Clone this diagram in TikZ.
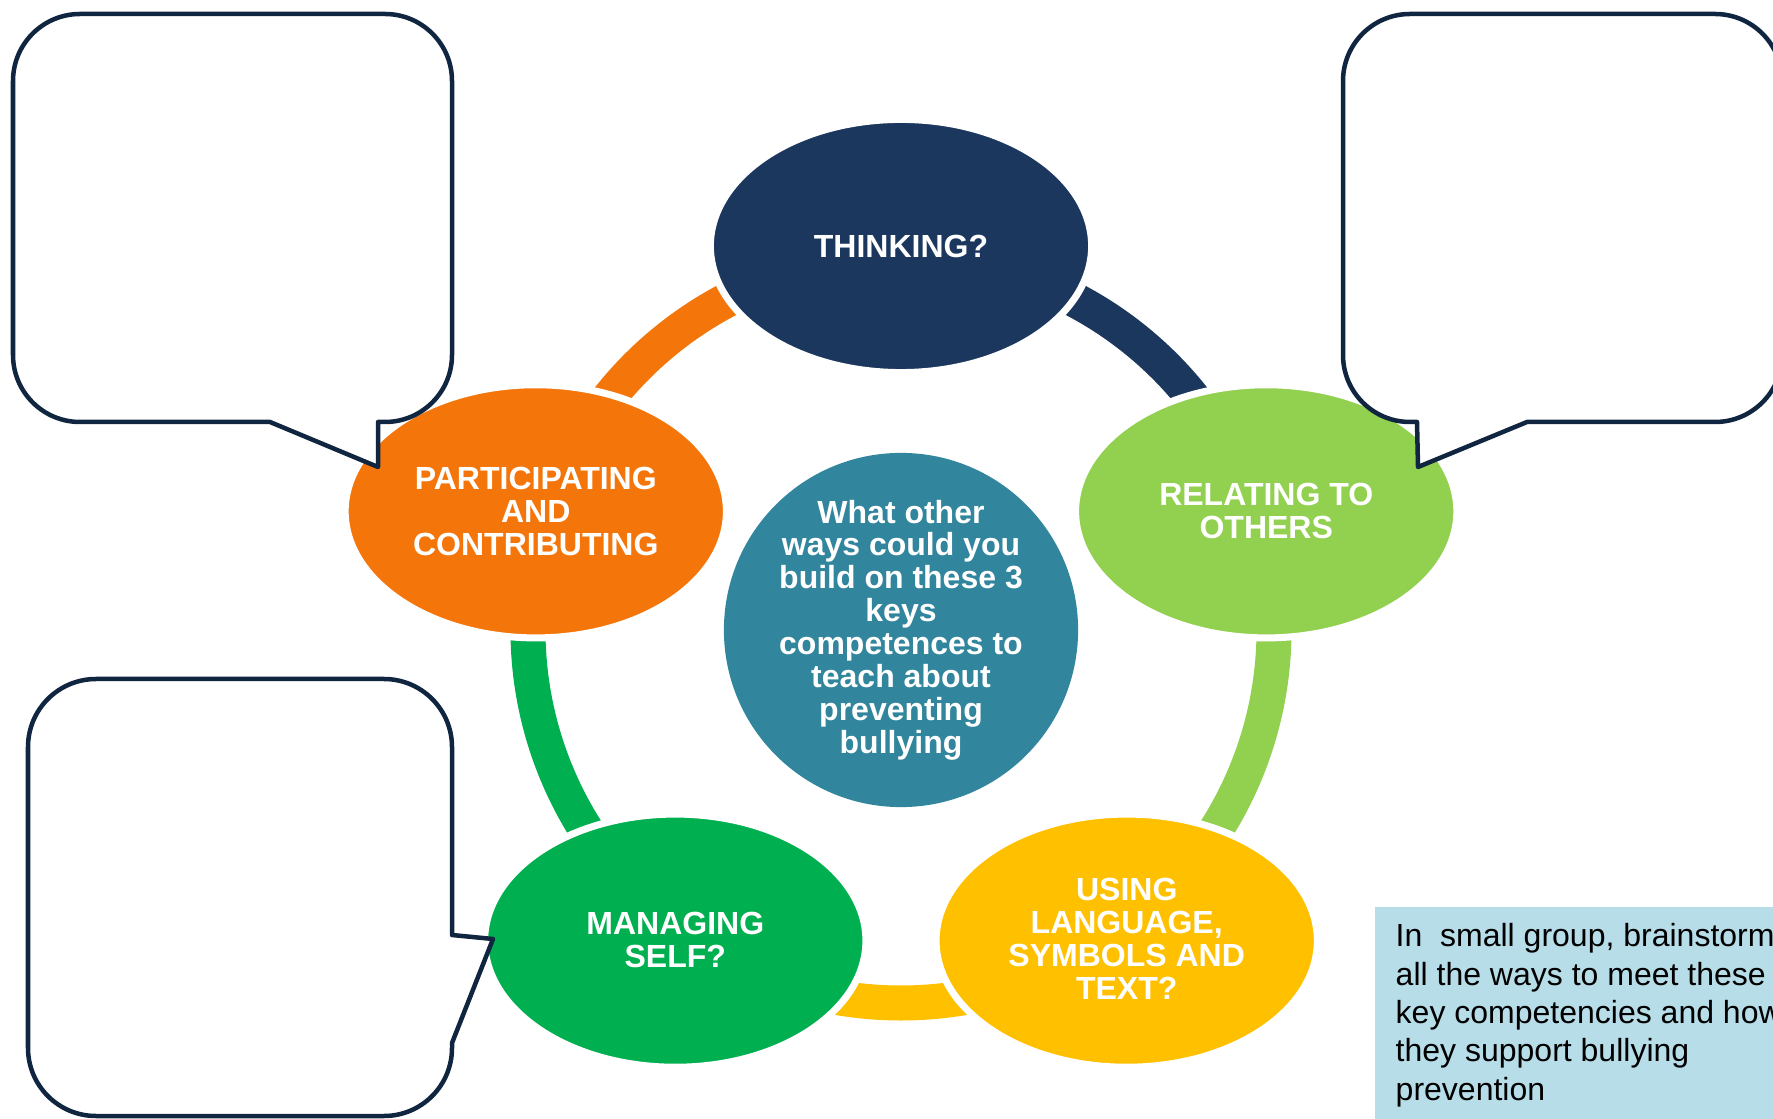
\documentclass[tikz,border=0pt]{standalone}
\usepackage{fontspec}
\setmainfont{Liberation Sans}
\usetikzlibrary{shapes.geometric,calc}

\definecolor{thinkblue}{HTML}{1B375E}
\definecolor{relgreen}{HTML}{92D050}
\definecolor{usegold}{HTML}{FFC000}
\definecolor{mangreen}{HTML}{00B050}
\definecolor{partorange}{HTML}{F4760B}
\definecolor{hubteal}{HTML}{31859C}
\definecolor{bubbleline}{HTML}{10253F}
\definecolor{notefill}{HTML}{B7DDE8}

\begin{document}
\begin{tikzpicture}[
  x=0.01cm, y=0.01cm,
  comp/.style={ellipse, draw=white, line width=0.07cm, minimum width=3.81cm,
    minimum height=2.53cm, inner sep=0pt},
  comptext/.style={text=white, align=center, inner sep=0pt,
    font=\bfseries\fontsize{9.1}{9.35}\selectfont},
  hub/.style={circle, fill=hubteal, minimum size=3.54cm, inner sep=0pt},
  ringarc/.style={line width=0.35cm},
  bubble/.style={draw=bubbleline, fill=white, line width=0.045cm, line join=round},
  notebox/.style={fill=notefill, anchor=north west, align=left, inner xsep=0.21cm,
    inner ysep=0.17cm, font=\fontsize{9.1}{10.9}\selectfont}
]
  \useasboundingbox (0,0) rectangle (1773,1118);

  % centre and ring
  \node[hub] (hub) at (901,488) {};
  \foreach \a/\c in {90/thinkblue, 18/relgreen, -54/usegold, -126/mangreen, -198/partorange}
    \draw[ringarc, \c] (hub.center) ++(\a:373) arc[start angle=\a, end angle=\a-72, radius=373];
  \node[comptext] (hubtext) at (hub) {What other\\ways could you\\build on these 3\\keys\\competences to\\teach about\\preventing\\bullying};

  % the five competencies
  \node[comp, fill=thinkblue] (think) at ($(hub.center)+(90:384)$)
    {}; \node[comptext] (thinktext) at (think) {THINKING?};
  \node[comp, fill=relgreen] (relate) at ($(hub.center)+(18:384)$)
    {}; \node[comptext] (relatetext) at (relate) {RELATING TO\\OTHERS};
  \node[comp, fill=usegold] (using) at ($(hub.center)+(-54:384)$)
    {}; \node[comptext] (usingtext) at ($(using)+(0,2)$) {USING\\LANGUAGE,\\SYMBOLS AND\\TEXT?};
  \node[comp, fill=mangreen] (manage) at ($(hub.center)+(-126:384)$)
    {}; \node[comptext] (managetext) at ($(manage)+(0,1)$) {MANAGING\\SELF?};
  \node[comp, fill=partorange] (part) at ($(hub.center)+(162:384)$)
    {}; \node[comptext] (parttext) at (part) {PARTICIPATING\\AND\\CONTRIBUTING};

  % speech bubbles
  \draw[bubble] (270,696) -- (80,696) arc[start angle=270, end angle=180, radius=67]
    -- (13,1037) arc[start angle=180, end angle=90, radius=67]
    -- (385,1104) arc[start angle=90, end angle=0, radius=67]
    -- (452,763) arc[start angle=0, end angle=-90, radius=67]
    -- (378,696) -- (378,651) -- cycle;
  \draw[bubble] (1527,696) -- (1715,696) arc[start angle=270, end angle=360, radius=67]
    -- (1782,1037) arc[start angle=0, end angle=90, radius=67]
    -- (1410,1104) arc[start angle=90, end angle=180, radius=67]
    -- (1343,763) arc[start angle=180, end angle=270, radius=67]
    -- (1417,696) -- (1418,651) -- cycle;
  \draw[bubble] (452,183) -- (452,371) arc[start angle=0, end angle=90, radius=68]
    -- (96,439) arc[start angle=90, end angle=180, radius=68]
    -- (28,70) arc[start angle=180, end angle=270, radius=68]
    -- (384,2) arc[start angle=270, end angle=360, radius=68]
    -- (452,75) -- (493,179) -- cycle;

  % task note
  \node[notebox] (note) at (1374,212) {In\ \ small group, brainstorm\\all the ways to meet these\\key competencies and how\\they support bullying\\prevention};
\end{tikzpicture}
\end{document}
